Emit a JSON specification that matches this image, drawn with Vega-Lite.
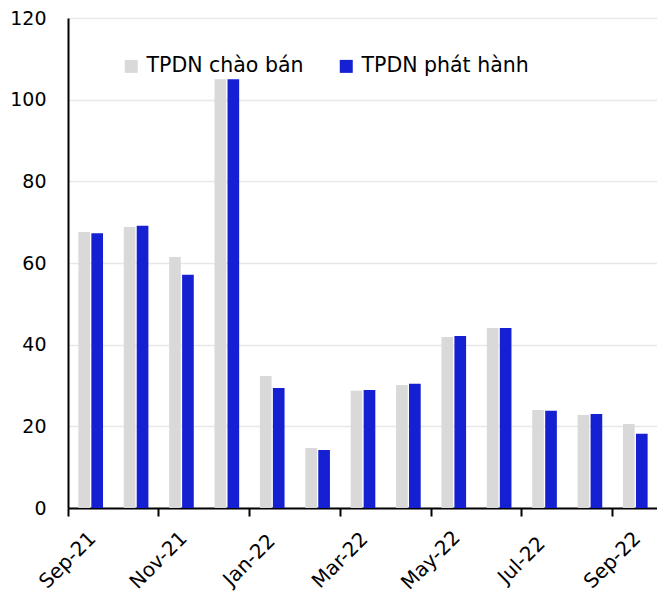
{
  "$schema": "https://vega.github.io/schema/vega-lite/v6.json",
  "width": 590,
  "height": 490,
  "autosize": {"type": "none"},
  "padding": {"left": 68, "top": 18, "right": 0, "bottom": 86},
  "background": "white",
  "config": {
    "view": {"stroke": null},
    "font": "DejaVu Sans"
  },
  "data": {
    "values": [
      {"month": "Sep-21", "series": "TPDN chào bán", "value": 67.6},
      {"month": "Sep-21", "series": "TPDN phát hành", "value": 67.3},
      {"month": "Oct-21", "series": "TPDN chào bán", "value": 68.8},
      {"month": "Oct-21", "series": "TPDN phát hành", "value": 69.1},
      {"month": "Nov-21", "series": "TPDN chào bán", "value": 61.5},
      {"month": "Nov-21", "series": "TPDN phát hành", "value": 57.1},
      {"month": "Dec-21", "series": "TPDN chào bán", "value": 105.0},
      {"month": "Dec-21", "series": "TPDN phát hành", "value": 105.0},
      {"month": "Jan-22", "series": "TPDN chào bán", "value": 32.3},
      {"month": "Jan-22", "series": "TPDN phát hành", "value": 29.4},
      {"month": "Feb-22", "series": "TPDN chào bán", "value": 14.7},
      {"month": "Feb-22", "series": "TPDN phát hành", "value": 14.2},
      {"month": "Mar-22", "series": "TPDN chào bán", "value": 28.7},
      {"month": "Mar-22", "series": "TPDN phát hành", "value": 28.9},
      {"month": "Apr-22", "series": "TPDN chào bán", "value": 30.1},
      {"month": "Apr-22", "series": "TPDN phát hành", "value": 30.4},
      {"month": "May-22", "series": "TPDN chào bán", "value": 41.9},
      {"month": "May-22", "series": "TPDN phát hành", "value": 42.1},
      {"month": "Jun-22", "series": "TPDN chào bán", "value": 44.1},
      {"month": "Jun-22", "series": "TPDN phát hành", "value": 44.1},
      {"month": "Jul-22", "series": "TPDN chào bán", "value": 24.0},
      {"month": "Jul-22", "series": "TPDN phát hành", "value": 23.8},
      {"month": "Aug-22", "series": "TPDN chào bán", "value": 22.8},
      {"month": "Aug-22", "series": "TPDN phát hành", "value": 23.0},
      {"month": "Sep-22", "series": "TPDN chào bán", "value": 20.6},
      {"month": "Sep-22", "series": "TPDN phát hành", "value": 18.2}
    ]
  },
  "mark": {"type": "bar"},
  "encoding": {
    "x": {
      "field": "month",
      "type": "nominal",
      "sort": null,
      "scale": {"paddingInner": 0, "paddingOuter": 0},
      "axis": {
        "title": null,
        "values": ["Sep-21", "Nov-21", "Jan-22", "Mar-22", "May-22", "Jul-22", "Sep-22"],
        "bandPosition": 0,
        "domainColor": "#000000",
        "domainWidth": 2,
        "tickColor": "#000000",
        "tickWidth": 2,
        "tickSize": 8,
        "labelAngle": -45,
        "labelAlign": "center",
        "labelBaseline": "middle",
        "labelPadding": 44,
        "labelOffset": -22.7,
        "labelFont": "DejaVu Sans",
        "labelFontSize": 20,
        "labelColor": "#000000",
        "grid": false
      }
    },
    "xOffset": {
      "field": "series",
      "type": "nominal",
      "sort": ["TPDN chào bán", "TPDN phát hành"],
      "scale": {"paddingInner": 0.1, "paddingOuter": 0.8}
    },
    "y": {
      "field": "value",
      "type": "quantitative",
      "scale": {"domain": [0, 120], "nice": false},
      "axis": {
        "title": null,
        "values": [0, 20, 40, 60, 80, 100, 120],
        "ticks": false,
        "labelPadding": 22,
        "labelFont": "DejaVu Sans",
        "labelFontSize": 19,
        "labelColor": "#000000",
        "domainColor": "#000000",
        "domainWidth": 2,
        "gridColor": "#e8e8e8",
        "gridWidth": 1.5
      }
    },
    "color": {
      "field": "series",
      "type": "nominal",
      "sort": ["TPDN chào bán", "TPDN phát hành"],
      "scale": {"domain": ["TPDN chào bán", "TPDN phát hành"], "range": ["#d9d9d9", "#1520d2"]},
      "legend": {
        "title": null,
        "orient": "none",
        "legendX": 53,
        "legendY": 38,
        "direction": "horizontal",
        "symbolType": "square",
        "symbolSize": 169,
        "symbolStrokeWidth": 0,
        "labelFont": "DejaVu Sans",
        "labelFontSize": 20.5,
        "labelColor": "#000000",
        "labelOffset": 5,
        "labelLimit": 400,
        "columnPadding": 32,
        "padding": 0
      }
    }
  }
}
